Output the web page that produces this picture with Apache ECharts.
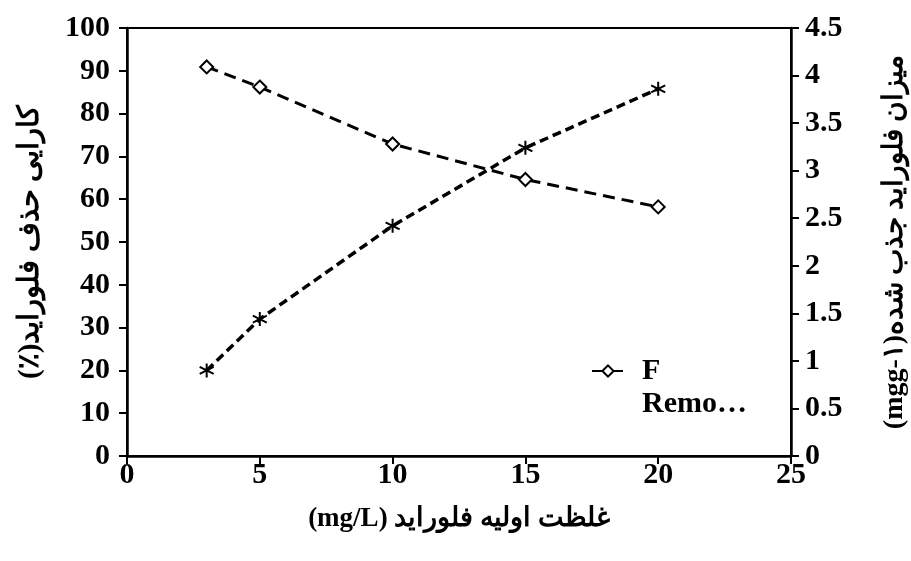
<!DOCTYPE html>
<html>
<head>
<meta charset="utf-8">
<script src="https://cdn.jsdelivr.net/npm/echarts@6/dist/echarts.min.js"></script>
<style>
  html, body { margin: 0; padding: 0; background: #fff; }
  #chart { width: 911px; height: 561px; }
</style>
</head>
<body>
<div id="chart"></div>
<script>
// initial fluoride concentration (mg/L)
const concentrations = [3, 5, 10, 15, 20];
// removal efficiency (%) - left axis
const removalPercent = [90.9, 86.2, 72.9, 64.6, 58.2];
// adsorbed amount (mg/g) - right axis
const adsorbedAmount = [0.9, 1.44, 2.42, 3.24, 3.86];

const xTitle = '(mg/L) غلظت اولیه فلوراید';
const leftTitle = '(٪)کارایی حذف فلوراید';
const rightTitle = '(mgg-۱)میزان فلوراید جذب شده';

const font = '"Liberation Serif", "DejaVu Serif", serif';
const black = '#000';

const chart = echarts.init(document.getElementById('chart'));

const axisCommon = {
  axisLine: { show: true, lineStyle: { color: black, width: 2.5 } },
  axisTick: { show: true, inside: false, length: 8, lineStyle: { color: black, width: 2 } },
  splitLine: { show: false }
};
const labelStyle = { fontFamily: font, fontWeight: 'bold', fontSize: 30, color: black };

const option = {
  animation: false,
  backgroundColor: '#fff',
  grid: {
    left: 127, right: 120, top: 28, bottom: 105,
    outerBoundsMode: 'none',
    show: true, borderColor: black, borderWidth: 2
  },
  legend: {
    left: 591, top: 333, padding: 0,
    data: ['F Removal'],
    itemWidth: 32, itemHeight: 14,
    // empty first line keeps "F" level with the icon
    formatter: () => '{s| }\n{a|F}\n{a|Remo…}',
    textStyle: {
      padding: [0, 0, 0, 13],
      rich: {
        s: { fontSize: 10, lineHeight: 33 },
        a: { fontFamily: font, fontWeight: 'bold', fontSize: 30, color: black, lineHeight: 33 }
      }
    }
  },
  xAxis: {
    ...axisCommon,
    type: 'value', min: 0, max: 25, interval: 5,
    name: xTitle, nameLocation: 'middle', nameGap: 50,
    nameTextStyle: { fontFamily: font, fontWeight: 'bold', fontSize: 27, color: black },
    axisLabel: { ...labelStyle, margin: 4 }
  },
  yAxis: [
    {
      ...axisCommon,
      type: 'value', min: 0, max: 100, interval: 10, position: 'left',
      name: leftTitle, nameLocation: 'middle', nameGap: 82, nameRotate: 90,
      nameTextStyle: { fontFamily: font, fontWeight: 'bold', fontSize: 29, color: black },
      axisLabel: { ...labelStyle, margin: 17 }
    },
    {
      ...axisCommon,
      type: 'value', min: 0, max: 4.5, interval: 0.5, position: 'right',
      name: rightTitle, nameLocation: 'middle', nameGap: 90, nameRotate: 90,
      nameTextStyle: { fontFamily: font, fontWeight: 'bold', fontSize: 28, color: black },
      axisLabel: { ...labelStyle, margin: 14 }
    }
  ],
  series: [
    {
      name: 'F Removal',
      type: 'line',
      yAxisIndex: 0,
      data: concentrations.map((c, i) => [c, removalPercent[i]]),
      symbol: 'emptyDiamond',
      symbolSize: 13,
      itemStyle: { color: black, borderColor: black, borderWidth: 2 },
      lineStyle: { color: black, width: 3, type: [12, 7] },
      z: 3
    },
    {
      name: 'Adsorbed',
      type: 'line',
      yAxisIndex: 1,
      data: concentrations.map((c, i) => [c, adsorbedAmount[i]]),
      symbol: 'path://M5,0L5,10M0.67,2.5L9.33,7.5M0.67,7.5L9.33,2.5',
      symbolSize: 14,
      itemStyle: { color: 'transparent', borderColor: black, borderWidth: 2 },
      lineStyle: { color: black, width: 3.5, type: [9, 5] },
      z: 2
    }
  ]
};

chart.setOption(option);
</script>
</body>
</html>
